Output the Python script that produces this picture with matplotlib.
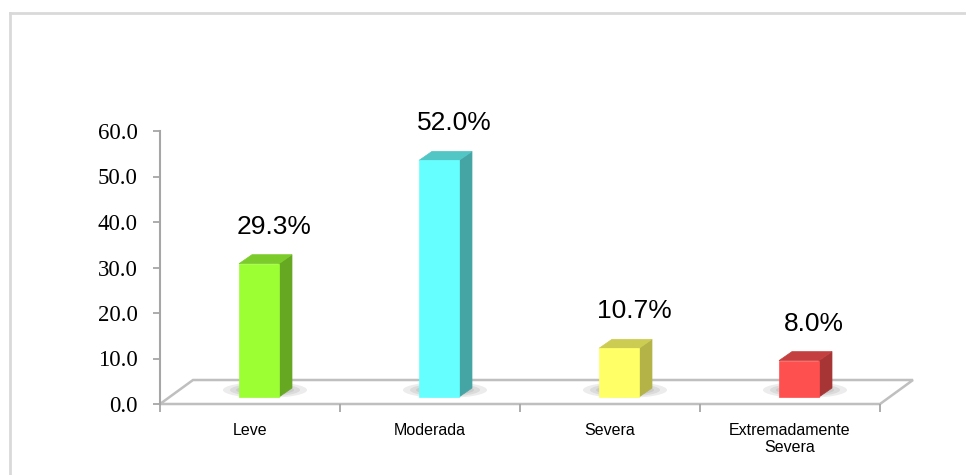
import matplotlib

matplotlib.use("Agg")
import matplotlib.pyplot as plt
from matplotlib.lines import Line2D
from matplotlib.patches import Ellipse, Polygon

categories = ["Leve", "Moderada", "Severa", "Extremadamente\nSevera"]
values = [29.3, 52.0, 10.7, 8.0]
yticks = [0, 10, 20, 30, 40, 50, 60]

front_colors = ["#9bff33", "#66ffff", "#ffff66", "#ff5050"]
side_colors = ["#66a822", "#45a5a5", "#b3b347", "#a83535"]
top_colors = ["#7bcc2b", "#52c5c5", "#cccc52", "#c44040"]

W, H = 966, 475
fig = plt.figure(figsize=(W / 100, H / 100), dpi=100)
ax = fig.add_axes([160 / W, 71 / H, 720 / W, 273 / H])
ax.set_xlim(-0.5, 3.5)
ax.set_ylim(0, 60)

# pixel -> data scale factors
x0, y0 = ax.transData.transform((0, 0))
x1, y1 = ax.transData.transform((1, 1))
sx, sy = x1 - x0, y1 - y0


def shift(pt, px, py):
    return (pt[0] + px / sx, pt[1] + py / sy)


floor_depth = (33, 24)
bar_front = (9, 7)
bar_back = (22, 16)
bar_w = 40 / sx
axis_grey = "#a6a6a6"
floor_grey = "#bfbfbf"

# floor
front_l, front_r = (-0.5, 0), (3.5, 0)
floor = Polygon([front_l, front_r, shift(front_r, *floor_depth), shift(front_l, *floor_depth)],
                closed=True, facecolor="white", edgecolor=floor_grey, lw=1.8,
                clip_on=False, zorder=1)
ax.add_patch(floor)

for i, v in enumerate(values):
    xl, xr = i - bar_w / 2, i + bar_w / 2
    # soft shadow on the floor
    base = shift((i, 0), bar_front[0] + 6, bar_front[1] + 7)
    for ew, eh in [(84, 16), (70, 13), (58, 10), (46, 7)]:
        ax.add_patch(Ellipse(base, ew / sx, eh / sy, facecolor="#303030",
                             edgecolor="none", alpha=0.09, clip_on=False, zorder=2))
    front = [shift(p, *bar_front) for p in [(xl, 0), (xr, 0), (xr, v), (xl, v)]]
    side = [shift((xr, 0), *bar_front), shift((xr, v), *bar_front),
            shift((xr, v), *bar_back), shift((xr, 0), *bar_back)]
    top = [shift((xl, v), *bar_front), shift((xr, v), *bar_front),
           shift((xr, v), *bar_back), shift((xl, v), *bar_back)]
    for pts, c in [(side, side_colors[i]), (top, top_colors[i]), (front, front_colors[i])]:
        ax.add_patch(Polygon(pts, closed=True, facecolor=c, edgecolor=c, lw=0.5,
                             clip_on=False, zorder=3))
    ax.annotate(f"{v:.1f}%", xy=(i, v), xytext=(24, 44), textcoords="offset pixels",
                ha="center", va="center", fontsize=19, family="Liberation Sans",
                color="black", annotation_clip=False)

# axes styling
for s in ["top", "right", "bottom"]:
    ax.spines[s].set_visible(False)
ax.spines["left"].set_color(axis_grey)
ax.spines["left"].set_linewidth(1.5)
ax.set_yticks(yticks)
ax.set_yticklabels([f"{t:.1f}" for t in yticks], family="Liberation Serif", fontsize=16.5)
ax.tick_params(axis="y", length=5, width=1.3, color=axis_grey, pad=11)

ax.set_xticks(range(len(categories)))
ax.set_xticklabels(categories, family="Liberation Sans", fontsize=11.5, linespacing=1.1)
ax.tick_params(axis="x", which="major", length=0, pad=14)
ax.set_xticks([i - 0.5 for i in range(len(categories) + 1)], minor=True)
ax.tick_params(axis="x", which="minor", length=6, width=1.3, color=axis_grey)
ax.patch.set_alpha(0)

# chart area border
fig.add_artist(Line2D([9.5 / W, 9.5 / W], [0, 1 - 13 / H], transform=fig.transFigure,
                      color="#d9d9d9", lw=2))
fig.add_artist(Line2D([9.5 / W, 1], [1 - 13 / H, 1 - 13 / H], transform=fig.transFigure,
                      color="#d9d9d9", lw=2))

fig.savefig("out.png", dpi=100)
